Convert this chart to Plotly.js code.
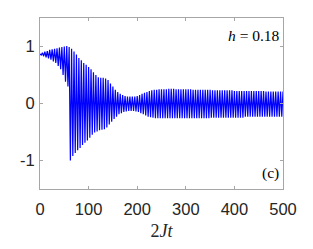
<!DOCTYPE html>
<html>
<head>
<meta charset="utf-8">
<script src="https://cdn.plot.ly/plotly-3.0.1.min.js"></script>
<style>html,body{margin:0;padding:0;background:#fff;}#chart{width:313px;height:249px;}</style>
</head>
<body>
<div id="chart"></div>
<script>
// Times of the local maxima and their values
var tMax = [0,5,10,15,20,25,30,35,40,45,50,55,60,65,70,75,80,85,90,95,
  100,105,110,115,120,125,130,135,140,145,150,155,160,165,170,175,180,185,190,195,
  200,205,210,215,220,225,230,235,240,245,250,255,260,265,270,275,280,285,290,295,
  300,305,310,315,320,325,330,335,340,345,350,355,360,365,370,375,380,385,390,395,
  400,405,410,415,420,425,430,435,440,445,450,455,460,465,470,475,480,485,490,495,500];
var yMax = [0.87,0.89,0.91,0.92,0.94,0.95,0.96,0.97,0.98,0.99,
  1.00,1.01,0.99,0.96,0.91,0.86,0.80,0.76,0.71,0.68,
  0.64,0.60,0.55,0.50,0.46,0.45,0.45,0.44,0.41,0.35,
  0.30,0.24,0.20,0.17,0.15,0.13,0.12,0.12,0.12,0.12,
  0.13,0.15,0.17,0.19,0.20,0.22,0.23,0.24,0.24,0.25,
  0.25,0.25,0.25,0.26,0.26,0.26,0.25,0.25,0.25,0.25,
  0.25,0.25,0.25,0.24,0.24,0.24,0.24,0.24,0.24,0.24,
  0.24,0.23,0.23,0.23,0.23,0.23,0.23,0.23,0.23,0.23,
  0.22,0.22,0.22,0.22,0.22,0.22,0.22,0.22,0.22,0.22,
  0.22,0.22,0.22,0.21,0.21,0.21,0.21,0.21,0.21,0.21,0.21];
// Times of the local minima and their values
var tMin = [2.5,7.5,12.5,17.5,22.5,27.5,32.5,37.5,42.5,47.5,52.5,57.5,62.5,67.5,72.5,77.5,82.5,87.5,92.5,97.5,
  102.5,107.5,112.5,117.5,122.5,127.5,132.5,137.5,142.5,147.5,152.5,157.5,162.5,167.5,172.5,177.5,182.5,187.5,192.5,197.5,
  202.5,207.5,212.5,217.5,222.5,227.5,232.5,237.5,242.5,247.5,252.5,257.5,262.5,267.5,272.5,277.5,282.5,287.5,292.5,297.5,
  302.5,307.5,312.5,317.5,322.5,327.5,332.5,337.5,342.5,347.5,352.5,357.5,362.5,367.5,372.5,377.5,382.5,387.5,392.5,397.5,
  402.5,407.5,412.5,417.5,422.5,427.5,432.5,437.5,442.5,447.5,452.5,457.5,462.5,467.5,472.5,477.5,482.5,487.5,492.5,497.5];
var yMin = [0.85,0.83,0.81,0.79,0.77,0.74,0.71,0.66,0.60,0.50,
  0.38,0.30,-1.00,-0.92,-0.87,-0.82,-0.78,-0.73,-0.69,-0.65,
  -0.60,-0.55,-0.51,-0.49,-0.47,-0.46,-0.45,-0.42,-0.37,-0.32,
  -0.27,-0.23,-0.19,-0.17,-0.15,-0.14,-0.13,-0.13,-0.13,-0.14,
  -0.15,-0.17,-0.19,-0.21,-0.23,-0.24,-0.25,-0.26,-0.26,-0.26,
  -0.26,-0.26,-0.26,-0.26,-0.26,-0.26,-0.26,-0.26,-0.26,-0.26,
  -0.26,-0.26,-0.26,-0.26,-0.26,-0.26,-0.26,-0.26,-0.26,-0.26,
  -0.25,-0.25,-0.25,-0.25,-0.25,-0.25,-0.25,-0.25,-0.25,-0.25,
  -0.25,-0.25,-0.25,-0.25,-0.23,-0.23,-0.23,-0.23,-0.23,-0.23,
  -0.23,-0.23,-0.23,-0.23,-0.23,-0.23,-0.23,-0.23,-0.23,-0.23];
var xTicks = [0,100,200,300,400,500];
var yTicks = [-1,0,1];

var xs = [], ys = [];
for (var i = 0; i < tMax.length; i++) {
  xs.push(tMax[i]); ys.push(yMax[i]);
  if (i < tMin.length) { xs.push(tMin[i]); ys.push(yMin[i]); }
}

var tickFont = {family: '"Liberation Sans Narrow", "Liberation Sans", Arial, sans-serif', size: 16.5, color: '#262626'};
var axisCommon = {
  showline: true, mirror: 'ticks', linecolor: '#a6a6a6', linewidth: 1,
  ticks: 'inside', ticklen: 3, tickcolor: '#a6a6a6', tickwidth: 1,
  showgrid: false, zeroline: false, tickfont: tickFont
};

var layout = {
  width: 313, height: 249,
  margin: {l: 40, r: 30, t: 18, b: 60},
  paper_bgcolor: '#ffffff', plot_bgcolor: '#ffffff',
  showlegend: false,
  xaxis: Object.assign({}, axisCommon, {
    range: [0, 500], tickvals: xTicks, ticktext: xTicks.map(String), ticklabelstandoff: 5,
    title: {text: '2<i>Jt</i>', font: {family: '"Liberation Serif", "Times New Roman", serif', size: 18, color: '#262626'}, standoff: 7}
  }),
  yaxis: Object.assign({}, axisCommon, {
    range: [-1.5, 1.5], tickvals: yTicks, ticktext: yTicks.map(String), ticklabelstandoff: 1
  }),
  annotations: [
    {xref: 'paper', yref: 'paper', x: 0.995, y: 0.90, xanchor: 'right', yanchor: 'middle', showarrow: false,
     text: '<i>h</i> = 0.18', font: {family: '"Liberation Serif", "Times New Roman", serif', size: 15.5, color: '#000'}},
    {xref: 'paper', yref: 'paper', x: 0.992, y: 0.094, xanchor: 'right', yanchor: 'middle', showarrow: false,
     text: '(c)', font: {family: '"Liberation Serif", "Times New Roman", serif', size: 15.5, color: '#000'}}
  ]
};

Plotly.newPlot('chart', [{
  x: xs, y: ys, type: 'scatter', mode: 'lines',
  line: {color: '#0000ff', width: 1.2}, hoverinfo: 'skip'
}], layout, {staticPlot: true, displayModeBar: false});
</script>
</body>
</html>
